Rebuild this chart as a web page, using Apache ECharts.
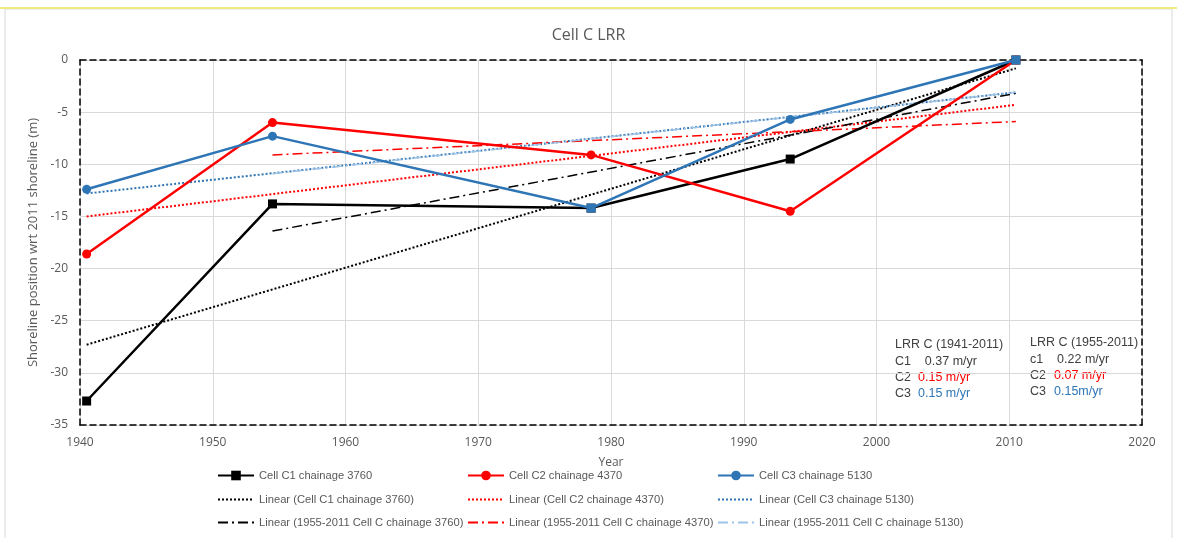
<!DOCTYPE html>
<html>
<head>
<meta charset="utf-8">
<script src="https://cdn.jsdelivr.net/npm/echarts@6/dist/echarts.min.js"></script>
<style>
  body { margin: 0; background: #fff; }
  #main { width: 1177px; height: 538px; }
</style>
</head>
<body>
<div id="main"></div>
<script>
// survey years
var years = [1940.5, 1954.5, 1978.5, 1993.5, 2010.5]
// shoreline position wrt 2011 (m)
var c1 = [-32.7, -13.8, -14.2, -9.5, 0]
var c2 = [-18.6, -6.0, -9.1, -14.5, 0]
var c3 = [-12.4, -7.3, -14.2, -5.7, 0]
// trend lines, start and end
var trendYears = [1940.5, 2010.5]
var trendC1 = [-27.3, -0.8]
var trendC2 = [-15.0, -4.3]
var trendC3 = [-12.8, -3.1]
var trend55Years = [1954.5, 2010.5]
var trend55C1 = [-16.4, -3.2]
var trend55C2 = [-9.1, -5.9]
var trend55C3 = [-10.9, -3.1]

var names = [
  'Cell C1 chainage 3760', 'Cell C2 chainage 4370', 'Cell C3 chainage 5130',
  'Linear (Cell C1 chainage 3760)', 'Linear (Cell C2 chainage 4370)', 'Linear (Cell C3 chainage 5130)',
  'Linear (1955-2011 Cell C chainage 3760)', 'Linear (1955-2011 Cell C chainage 4370)', 'Linear (1955-2011 Cell C chainage 5130)'
]

function pairs(xs, ys) {
  return xs.map(function (x, i) { return [x, ys[i]] })
}

var grey = '#595959'
var narrow = "'Liberation Sans Narrow', 'Liberation Sans', sans-serif"
var open = "'Open Sans', sans-serif"
var dashDot = [10, 4, 2, 4]

var chart = echarts.init(document.getElementById('main'))

function trend(name, xs, ys, color, type, width) {
  return {
    name: name, type: 'line', data: pairs(xs, ys),
    symbol: 'circle', showSymbol: false,
    lineStyle: { color: color, width: width || 2, type: type },
    itemStyle: { color: color }, z: 1
  }
}

// blue markers drawn as squares where it sits on the black ones
var c3Data = pairs(years, c3).map(function (p, i) {
  if (i == 2 || i == 4) return { value: p, symbol: 'rect', symbolSize: 9 }
  return p
})

// one legend per entry so the 3x3 block lines up like the original
var legendLefts = [217, 467, 717]
var legendTops = [470, 494, 517]
var legends = names.map(function (n, i) {
  var item = { name: n }
  // trend lines show only the line in the key
  if (i >= 3) item.itemStyle = { opacity: 0 }
  return {
    left: legendLefts[i % 3], top: legendTops[Math.floor(i / 3)], padding: 0,
    itemWidth: 36, itemHeight: 12, itemGap: 0,
    textStyle: { color: grey, fontSize: 11.2, fontFamily: narrow },
    data: [item]
  }
})

function note(x, y, text, color) {
  return { type: 'text', left: x, top: y, style: { text: text, fontSize: 12.5, fontFamily: narrow, fill: color || '#404040' } }
}

var dashedEdge = { color: '#000', type: [6, 4], width: 1.5 }

var option = {
  animation: false,
  title: {
    text: 'Cell C LRR', left: 'center', top: 22,
    textStyle: { color: grey, fontSize: 16, fontWeight: 'normal', fontFamily: open }
  },
  grid: { left: 80, right: 35, top: 60, bottom: 113 },
  legend: legends,
  xAxis: [{
    type: 'value', min: 1940, max: 2020, interval: 10,
    name: 'Year', nameLocation: 'middle', nameGap: 32,
    nameTextStyle: { color: grey, fontSize: 12, fontFamily: open },
    axisLine: { onZero: false, lineStyle: dashedEdge },
    axisTick: { show: false },
    axisLabel: { color: grey, fontSize: 12, fontFamily: open, margin: 12, formatter: function (v) { return String(v) } },
    splitLine: { lineStyle: { color: '#d9d9d9' } }
  }, {
    type: 'value', position: 'top', min: 1940, max: 2020,
    axisLine: { onZero: false, lineStyle: dashedEdge },
    axisTick: { show: false }, axisLabel: { show: false }, splitLine: { show: false }
  }],
  yAxis: [{
    type: 'value', min: -35, max: 0, interval: 5,
    name: 'Shoreline position wrt 2011 shoreline (m)', nameLocation: 'middle', nameGap: 27,
    nameTextStyle: { color: grey, fontSize: 13, fontFamily: open },
    axisLine: { show: true, onZero: false, lineStyle: dashedEdge },
    axisTick: { show: false },
    axisLabel: { color: grey, fontSize: 12, fontFamily: open, margin: 12 },
    splitLine: { lineStyle: { color: '#d9d9d9' } }
  }, {
    type: 'value', position: 'right', min: -35, max: 0,
    axisLine: { show: true, onZero: false, lineStyle: dashedEdge },
    axisTick: { show: false }, axisLabel: { show: false }, splitLine: { show: false }
  }],
  series: [
    {
      name: names[0], type: 'line', data: pairs(years, c1), symbol: 'rect', symbolSize: 9,
      lineStyle: { color: '#000', width: 2.5 }, itemStyle: { color: '#000' }, z: 3
    },
    {
      name: names[1], type: 'line', data: pairs(years, c2), symbol: 'circle', symbolSize: 9,
      lineStyle: { color: '#ff0000', width: 2.5 }, itemStyle: { color: '#ff0000' }, z: 3
    },
    {
      name: names[2], type: 'line', data: c3Data, symbol: 'circle', symbolSize: 9,
      lineStyle: { color: '#2e75b6', width: 2.5 }, itemStyle: { color: '#2e75b6' }, z: 4
    },
    trend(names[3], trendYears, trendC1, '#000', 'dotted'),
    trend(names[4], trendYears, trendC2, '#ff0000', 'dotted'),
    trend(names[5], trendYears, trendC3, '#2e75b6', 'dotted'),
    trend(names[6], trend55Years, trend55C1, '#000', dashDot, 1.5),
    trend(names[7], trend55Years, trend55C2, '#ff0000', dashDot, 1.5),
    trend(names[8], trend55Years, trend55C3, '#9dc3e6', dashDot, 1.5)
  ],
  graphic: [
    { type: 'rect', shape: { x: 5, y: 9, width: 1167, height: 540 }, style: { fill: 'none', stroke: '#d9d9d9' }, silent: true },
    { type: 'line', shape: { x1: 0, y1: 8, x2: 1177, y2: 8 }, style: { stroke: '#eded7a', lineWidth: 2 }, silent: true },
    note(895, 338, 'LRR C (1941-2011)'),
    note(895, 355, 'C1    0.37 m/yr'),
    note(895, 371, 'C2'),
    note(918, 371, '0.15 m/yr', '#ff0000'),
    note(895, 387, 'C3'),
    note(918, 387, '0.15 m/yr', '#2e75b6'),
    note(1030, 336, 'LRR C (1955-2011)'),
    note(1030, 353, 'c1    0.22 m/yr'),
    note(1030, 369, 'C2'),
    note(1054, 369, '0.07 m/yr', '#ff0000'),
    note(1030, 385, 'C3'),
    note(1054, 385, '0.15m/yr', '#2e75b6')
  ]
}
chart.setOption(option)
</script>
</body>
</html>
